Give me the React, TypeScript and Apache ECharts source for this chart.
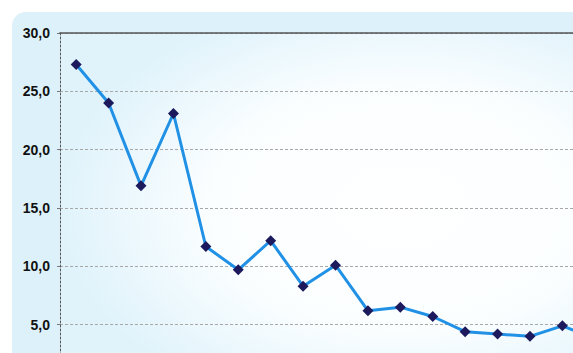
import React, { useEffect, useRef } from "react";
import * as echarts from "echarts";

const categories = ["1", "2", "3", "4", "5", "6", "7", "8", "9", "10", "11", "12", "13", "14", "15", "16", "17"];
const values = [27.3, 24.0, 16.9, 23.1, 11.7, 9.7, 12.2, 8.3, 10.1, 6.2, 6.5, 5.7, 4.4, 4.2, 4.0, 4.9, 3.8];
const yTicks = { min: 0, max: 30, interval: 5 };

export default function App() {
  const ref = useRef<HTMLDivElement>(null);
  useEffect(() => {
    if (!ref.current) return;
    const chart = echarts.init(ref.current, null, { renderer: "svg" });
    chart.setOption({
      animation: false,
      backgroundColor: "#ffffff",
      graphic: [
        {
          type: "rect",
          z: -10,
          silent: true,
          shape: { x: 12, y: 12, width: 700, height: 500, r: 14 },
          style: { fill: "#dcf1fa" },
        },
      ],
      grid: {
        left: 60,
        top: 33,
        width: 551,
        height: 350,
        show: true,
        borderWidth: 0,
        backgroundColor: new echarts.graphic.RadialGradient(0.62, 0.5, 0.62, [
          { offset: 0, color: "#ffffff" },
          { offset: 0.55, color: "#fbfeff" },
          { offset: 1, color: "#e0f3fb" },
        ]),
      },
      xAxis: [
        {
          type: "category",
          data: categories,
          boundaryGap: true,
          axisLine: { show: true, lineStyle: { color: "#555" } },
          axisTick: { show: false },
          axisLabel: { show: false },
        },
        {
          type: "category",
          position: "top",
          data: categories,
          boundaryGap: true,
          axisLine: { show: true, lineStyle: { color: "#555", width: 1.6 } },
          axisTick: { show: false },
          axisLabel: { show: false },
          z: 5,
        },
      ],
      yAxis: {
        type: "value",
        min: yTicks.min,
        max: yTicks.max,
        interval: yTicks.interval,
        axisLine: { show: true, lineStyle: { color: "#555", type: [2, 2], width: 1 } },
        axisTick: { show: true, length: 3, lineStyle: { color: "#777" } },
        axisLabel: {
          margin: 10,
          showMinLabel: false,
          color: "#111",
          fontFamily: "Liberation Sans, Arial, sans-serif",
          fontSize: 14,
          fontWeight: "bold",
          formatter: (v: number) => v.toFixed(1).replace(".", ","),
        },
        splitLine: { show: true, lineStyle: { color: "#a8a8a8", type: [3, 2], width: 1 } },
      },
      series: [
        {
          type: "line",
          data: values,
          symbol: "diamond",
          symbolSize: 11,
          lineStyle: { color: "#2191e6", width: 3 },
          itemStyle: { color: "#1c1a5c" },
          z: 3,
        },
      ],
    });
    return () => chart.dispose();
  }, []);
  return (
    <div
      ref={ref}
      style={{ position: "fixed", left: 0, top: 0, width: 640, height: 420 }}
    />
  );
}
